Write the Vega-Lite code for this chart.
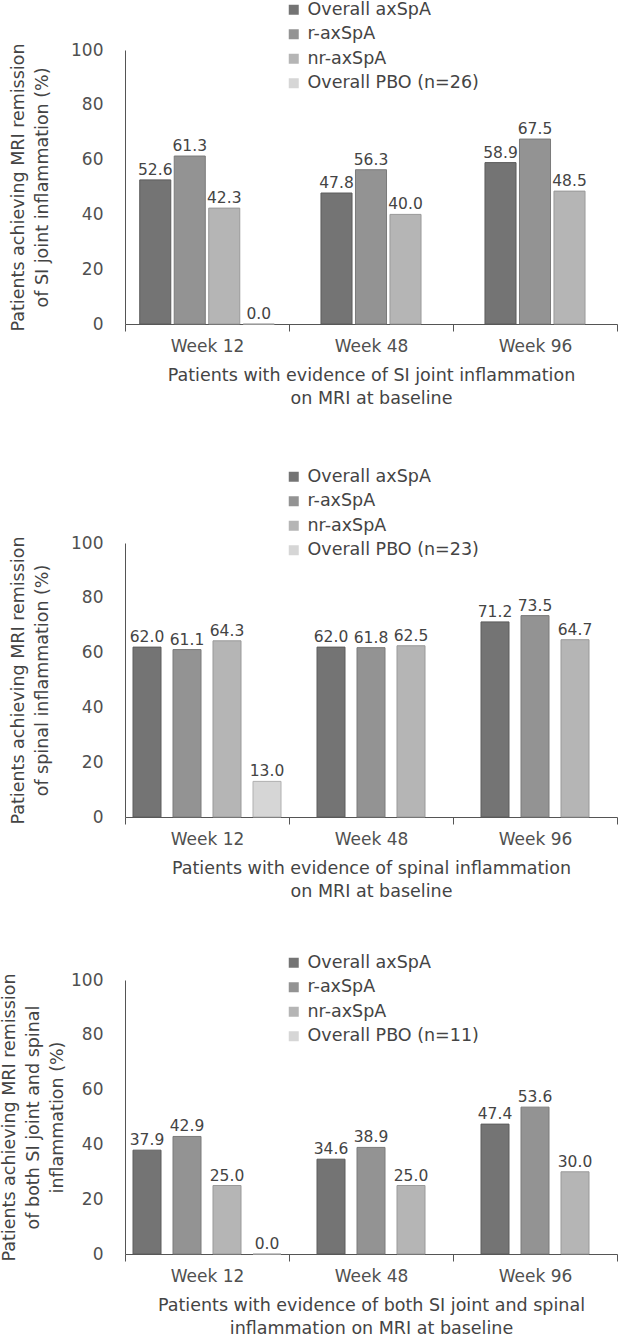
{
  "$schema": "https://vega.github.io/schema/vega-lite/v6.json",
  "padding": {"left": 0, "top": 1, "right": 0, "bottom": 0},
  "background": "white",
  "spacing": 54,
  "config": {
    "view": {"stroke": null},
    "font": "DejaVu Sans",
    "axis": {
      "labelFont": "DejaVu Sans", "labelFontSize": 17, "labelColor": "#505050",
      "titleFont": "DejaVu Sans", "titleFontSize": 17.5, "titleFontWeight": "normal", "titleColor": "#444444",
      "domainColor": "#555555", "tickColor": "#555555", "grid": false
    },
    "legend": {
      "labelFont": "DejaVu Sans", "labelFontSize": 17.5, "labelColor": "#444444", "labelLimit": 400,
      "symbolType": "square", "symbolSize": 100, "symbolStrokeWidth": 0,
      "rowPadding": 5.5, "labelOffset": 5, "padding": 0, "orient": "none", "title": null
    }
  },
  "data": {"values": [
    {"panel": 1, "week": "Week 12", "series": "Overall axSpA", "value": 52.6},
    {"panel": 1, "week": "Week 12", "series": "r-axSpA", "value": 61.3},
    {"panel": 1, "week": "Week 12", "series": "nr-axSpA", "value": 42.3},
    {"panel": 1, "week": "Week 12", "series": "Overall PBO (n=26)", "value": 0.0},
    {"panel": 1, "week": "Week 48", "series": "Overall axSpA", "value": 47.8},
    {"panel": 1, "week": "Week 48", "series": "r-axSpA", "value": 56.3},
    {"panel": 1, "week": "Week 48", "series": "nr-axSpA", "value": 40.0},
    {"panel": 1, "week": "Week 96", "series": "Overall axSpA", "value": 58.9},
    {"panel": 1, "week": "Week 96", "series": "r-axSpA", "value": 67.5},
    {"panel": 1, "week": "Week 96", "series": "nr-axSpA", "value": 48.5},
    {"panel": 2, "week": "Week 12", "series": "Overall axSpA", "value": 62.0},
    {"panel": 2, "week": "Week 12", "series": "r-axSpA", "value": 61.1},
    {"panel": 2, "week": "Week 12", "series": "nr-axSpA", "value": 64.3},
    {"panel": 2, "week": "Week 12", "series": "Overall PBO (n=23)", "value": 13.0},
    {"panel": 2, "week": "Week 48", "series": "Overall axSpA", "value": 62.0},
    {"panel": 2, "week": "Week 48", "series": "r-axSpA", "value": 61.8},
    {"panel": 2, "week": "Week 48", "series": "nr-axSpA", "value": 62.5},
    {"panel": 2, "week": "Week 96", "series": "Overall axSpA", "value": 71.2},
    {"panel": 2, "week": "Week 96", "series": "r-axSpA", "value": 73.5},
    {"panel": 2, "week": "Week 96", "series": "nr-axSpA", "value": 64.7},
    {"panel": 3, "week": "Week 12", "series": "Overall axSpA", "value": 37.9},
    {"panel": 3, "week": "Week 12", "series": "r-axSpA", "value": 42.9},
    {"panel": 3, "week": "Week 12", "series": "nr-axSpA", "value": 25.0},
    {"panel": 3, "week": "Week 12", "series": "Overall PBO (n=11)", "value": 0.0},
    {"panel": 3, "week": "Week 48", "series": "Overall axSpA", "value": 34.6},
    {"panel": 3, "week": "Week 48", "series": "r-axSpA", "value": 38.9},
    {"panel": 3, "week": "Week 48", "series": "nr-axSpA", "value": 25.0},
    {"panel": 3, "week": "Week 96", "series": "Overall axSpA", "value": 47.4},
    {"panel": 3, "week": "Week 96", "series": "r-axSpA", "value": 53.6},
    {"panel": 3, "week": "Week 96", "series": "nr-axSpA", "value": 30.0}
  ]},
  "vconcat": [
    {
      "width": 492, "height": 274,
      "transform": [{"filter": "datum.panel == 1"}],
      "encoding": {
        "x": {"field": "week", "type": "nominal",
          "scale": {"domain": ["Week 12", "Week 48", "Week 96"], "paddingInner": 0, "paddingOuter": 0},
          "axis": {"labelAngle": 0, "tickBand": "extent", "tickSize": 7, "labelPadding": 7, "titlePadding": 12, "titleLineHeight": 23,
            "title": ["Patients with evidence of SI joint inflammation", "on MRI at baseline"]}},
        "y": {"field": "value", "type": "quantitative",
          "scale": {"domain": [0, 100]},
          "axis": {"values": [0, 20, 40, 60, 80, 100], "ticks": false, "labelPadding": 22, "titlePadding": 19, "titleLineHeight": 24,
            "title": ["Patients achieving MRI remission", "of SI joint inflammation (%)"]}}
      },
      "layer": [
        {
          "transform": [{"filter": "datum.week == 'Week 12'"}],
          "encoding": {"xOffset": {"field": "series", "type": "nominal",
            "scale": {"domain": ["Overall axSpA", "r-axSpA", "nr-axSpA", "Overall PBO (n=26)"], "paddingInner": 0.1, "paddingOuter": 0.427}}},
          "layer": [
            {"mark": {"type": "bar", "strokeWidth": 1},
             "encoding": {
               "color": {"field": "series", "type": "nominal",
                 "scale": {"domain": ["Overall axSpA", "r-axSpA", "nr-axSpA", "Overall PBO (n=26)"], "range": ["#747474", "#939393", "#b5b5b5", "#d6d6d6"]},
                 "legend": {"legendX": 160, "legendY": -49}},
               "stroke": {"field": "series", "type": "nominal",
                 "scale": {"domain": ["Overall axSpA", "r-axSpA", "nr-axSpA", "Overall PBO (n=26)"], "range": ["#5c5c5c", "#7a7a7a", "#999999", "#b0b0b0"]},
                 "legend": null}}},
            {"mark": {"type": "text", "dy": -5, "baseline": "alphabetic", "fontSize": 15.5, "font": "DejaVu Sans", "fill": "#444444"},
             "encoding": {"text": {"field": "value", "type": "quantitative", "format": ".1f"}}}
          ]
        },
        {
          "transform": [{"filter": "datum.week != 'Week 12'"}],
          "encoding": {"xOffset": {"field": "series", "type": "nominal",
            "scale": {"domain": ["Overall axSpA", "r-axSpA", "nr-axSpA"], "paddingInner": 0.1, "paddingOuter": 0.927}}},
          "layer": [
            {"mark": {"type": "bar", "strokeWidth": 1},
             "encoding": {
               "color": {"field": "series", "type": "nominal",
                 "scale": {"domain": ["Overall axSpA", "r-axSpA", "nr-axSpA", "Overall PBO (n=26)"], "range": ["#747474", "#939393", "#b5b5b5", "#d6d6d6"]},
                 "legend": {"legendX": 160, "legendY": -49}},
               "stroke": {"field": "series", "type": "nominal",
                 "scale": {"domain": ["Overall axSpA", "r-axSpA", "nr-axSpA", "Overall PBO (n=26)"], "range": ["#5c5c5c", "#7a7a7a", "#999999", "#b0b0b0"]},
                 "legend": null}}},
            {"mark": {"type": "text", "dy": -5, "baseline": "alphabetic", "fontSize": 15.5, "font": "DejaVu Sans", "fill": "#444444"},
             "encoding": {"text": {"field": "value", "type": "quantitative", "format": ".1f"}}}
          ]
        }
      ],
      "resolve": {"scale": {"xOffset": "independent"}}
    },
    {
      "width": 492, "height": 274,
      "transform": [{"filter": "datum.panel == 2"}],
      "encoding": {
        "x": {"field": "week", "type": "nominal",
          "scale": {"domain": ["Week 12", "Week 48", "Week 96"], "paddingInner": 0, "paddingOuter": 0},
          "axis": {"labelAngle": 0, "tickBand": "extent", "tickSize": 7, "labelPadding": 7, "titlePadding": 12, "titleLineHeight": 23,
            "title": ["Patients with evidence of spinal inflammation", "on MRI at baseline"]}},
        "y": {"field": "value", "type": "quantitative",
          "scale": {"domain": [0, 100]},
          "axis": {"values": [0, 20, 40, 60, 80, 100], "ticks": false, "labelPadding": 22, "titlePadding": 19, "titleLineHeight": 24,
            "title": ["Patients achieving MRI remission", "of spinal inflammation (%)"]}}
      },
      "layer": [
        {
          "transform": [{"filter": "datum.week == 'Week 12'"}],
          "encoding": {"xOffset": {"field": "series", "type": "nominal",
            "scale": {"domain": ["Overall axSpA", "r-axSpA", "nr-axSpA", "Overall PBO (n=23)"], "paddingInner": 0.3, "paddingOuter": 0.2}}},
          "layer": [
            {"mark": {"type": "bar", "strokeWidth": 1},
             "encoding": {
               "color": {"field": "series", "type": "nominal",
                 "scale": {"domain": ["Overall axSpA", "r-axSpA", "nr-axSpA", "Overall PBO (n=23)"], "range": ["#747474", "#939393", "#b5b5b5", "#d6d6d6"]},
                 "legend": {"legendX": 153, "legendY": -82, "padding": 7}},
               "stroke": {"field": "series", "type": "nominal",
                 "scale": {"domain": ["Overall axSpA", "r-axSpA", "nr-axSpA", "Overall PBO (n=23)"], "range": ["#5c5c5c", "#7a7a7a", "#999999", "#b0b0b0"]},
                 "legend": null}}},
            {"mark": {"type": "text", "dy": -5, "baseline": "alphabetic", "fontSize": 15.5, "font": "DejaVu Sans", "fill": "#444444"},
             "encoding": {"text": {"field": "value", "type": "quantitative", "format": ".1f"}}}
          ]
        },
        {
          "transform": [{"filter": "datum.week != 'Week 12'"}],
          "encoding": {"xOffset": {"field": "series", "type": "nominal",
            "scale": {"domain": ["Overall axSpA", "r-axSpA", "nr-axSpA"], "paddingInner": 0.3, "paddingOuter": 0.7}}},
          "layer": [
            {"mark": {"type": "bar", "strokeWidth": 1},
             "encoding": {
               "color": {"field": "series", "type": "nominal",
                 "scale": {"domain": ["Overall axSpA", "r-axSpA", "nr-axSpA", "Overall PBO (n=23)"], "range": ["#747474", "#939393", "#b5b5b5", "#d6d6d6"]},
                 "legend": {"legendX": 153, "legendY": -82, "padding": 7}},
               "stroke": {"field": "series", "type": "nominal",
                 "scale": {"domain": ["Overall axSpA", "r-axSpA", "nr-axSpA", "Overall PBO (n=23)"], "range": ["#5c5c5c", "#7a7a7a", "#999999", "#b0b0b0"]},
                 "legend": null}}},
            {"mark": {"type": "text", "dy": -5, "baseline": "alphabetic", "fontSize": 15.5, "font": "DejaVu Sans", "fill": "#444444"},
             "encoding": {"text": {"field": "value", "type": "quantitative", "format": ".1f"}}}
          ]
        }
      ],
      "resolve": {"scale": {"xOffset": "independent"}}
    },
    {
      "width": 492, "height": 274,
      "transform": [{"filter": "datum.panel == 3"}],
      "encoding": {
        "x": {"field": "week", "type": "nominal",
          "scale": {"domain": ["Week 12", "Week 48", "Week 96"], "paddingInner": 0, "paddingOuter": 0},
          "axis": {"labelAngle": 0, "tickBand": "extent", "tickSize": 7, "labelPadding": 7, "titlePadding": 12, "titleLineHeight": 23,
            "title": ["Patients with evidence of both SI joint and spinal", "inflammation on MRI at baseline"]}},
        "y": {"field": "value", "type": "quantitative",
          "scale": {"domain": [0, 100]},
          "axis": {"values": [0, 20, 40, 60, 80, 100], "ticks": false, "labelPadding": 22, "titlePadding": 4, "titleLineHeight": 24,
            "title": ["Patients achieving MRI remission", "of both SI joint and spinal", "inflammation (%)"]}}
      },
      "layer": [
        {
          "transform": [{"filter": "datum.week == 'Week 12'"}],
          "encoding": {"xOffset": {"field": "series", "type": "nominal",
            "scale": {"domain": ["Overall axSpA", "r-axSpA", "nr-axSpA", "Overall PBO (n=11)"], "paddingInner": 0.3, "paddingOuter": 0.2}}},
          "layer": [
            {"mark": {"type": "bar", "strokeWidth": 1},
             "encoding": {
               "color": {"field": "series", "type": "nominal",
                 "scale": {"domain": ["Overall axSpA", "r-axSpA", "nr-axSpA", "Overall PBO (n=11)"], "range": ["#747474", "#939393", "#b5b5b5", "#d6d6d6"]},
                 "legend": {"legendX": 160, "legendY": -26}},
               "stroke": {"field": "series", "type": "nominal",
                 "scale": {"domain": ["Overall axSpA", "r-axSpA", "nr-axSpA", "Overall PBO (n=11)"], "range": ["#5c5c5c", "#7a7a7a", "#999999", "#b0b0b0"]},
                 "legend": null}}},
            {"mark": {"type": "text", "dy": -5, "baseline": "alphabetic", "fontSize": 15.5, "font": "DejaVu Sans", "fill": "#444444"},
             "encoding": {"text": {"field": "value", "type": "quantitative", "format": ".1f"}}}
          ]
        },
        {
          "transform": [{"filter": "datum.week != 'Week 12'"}],
          "encoding": {"xOffset": {"field": "series", "type": "nominal",
            "scale": {"domain": ["Overall axSpA", "r-axSpA", "nr-axSpA"], "paddingInner": 0.3, "paddingOuter": 0.7}}},
          "layer": [
            {"mark": {"type": "bar", "strokeWidth": 1},
             "encoding": {
               "color": {"field": "series", "type": "nominal",
                 "scale": {"domain": ["Overall axSpA", "r-axSpA", "nr-axSpA", "Overall PBO (n=11)"], "range": ["#747474", "#939393", "#b5b5b5", "#d6d6d6"]},
                 "legend": {"legendX": 160, "legendY": -26}},
               "stroke": {"field": "series", "type": "nominal",
                 "scale": {"domain": ["Overall axSpA", "r-axSpA", "nr-axSpA", "Overall PBO (n=11)"], "range": ["#5c5c5c", "#7a7a7a", "#999999", "#b0b0b0"]},
                 "legend": null}}},
            {"mark": {"type": "text", "dy": -5, "baseline": "alphabetic", "fontSize": 15.5, "font": "DejaVu Sans", "fill": "#444444"},
             "encoding": {"text": {"field": "value", "type": "quantitative", "format": ".1f"}}}
          ]
        }
      ],
      "resolve": {"scale": {"xOffset": "independent"}}
    }
  ],
  "resolve": {"scale": {"color": "independent", "stroke": "independent"}, "legend": {"color": "independent"}}
}
